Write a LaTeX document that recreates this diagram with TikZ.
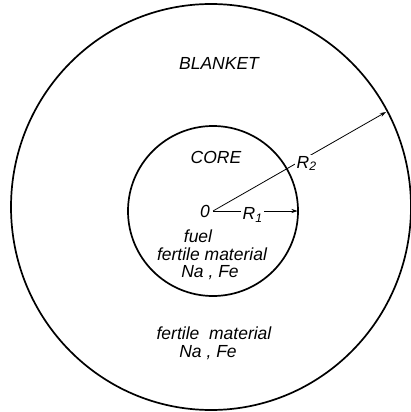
\documentclass[tikz,border=0pt]{standalone}
\usepackage{fontspec}
\setmainfont{Liberation Sans}
\usepackage{tikz}
\usetikzlibrary{arrows.meta,positioning,calc}

\begin{document}
\begin{tikzpicture}[
  x=1pt, y=-1pt,
  every node/.style={font=\fontsize{17.5}{19}\selectfont\itshape, inner sep=1pt},
  zone/.style={draw=black, line width=1.7pt},
  radius arr/.style={-{Stealth[length=6pt, width=4pt]}, line width=0.8pt},
  cut/.style={fill=white, inner sep=1.5pt},
]
\useasboundingbox (0,0) rectangle (411,412);

%% ── Zone boundaries ──────────────────────────────────────────────────────
\coordinate (O) at (213,211);
\draw[zone] (211,207) ellipse [x radius=200pt, y radius=203pt];
\draw[zone] (O) circle [radius=85pt];

%% End points of the two radii
\coordinate (r1end) at (297.5,211);
\coordinate (r2end) at (386,112);

%% ── Radii ────────────────────────────────────────────────────────────────
\draw[radius arr] (O) -- (r2end)
  node[cut, pos=0.53, yshift=-5pt, xshift=2pt] (rtwo) {R\textsubscript{2}};
\draw[radius arr] (O) -- (r1end)
  node[cut, pos=0.47, yshift=-4pt] (rone) {R\textsubscript{1}};
\node[left=2pt of O] (orig) {0};

%% ── Labels ───────────────────────────────────────────────────────────────
\node (blanket) at (219,63) {BLANKET};
\node (core) at (216,157) {CORE};

\node (fuel) at (198,236) {fuel};
\node (cfert) at (212,254) {fertile material};
\node (cnafe) at (210,273) {Na , Fe};

\node (bfert) at (214,333) {fertile\ \ material};
\node (bnafe) at (208,353) {Na , Fe};

\end{tikzpicture}
\end{document}
